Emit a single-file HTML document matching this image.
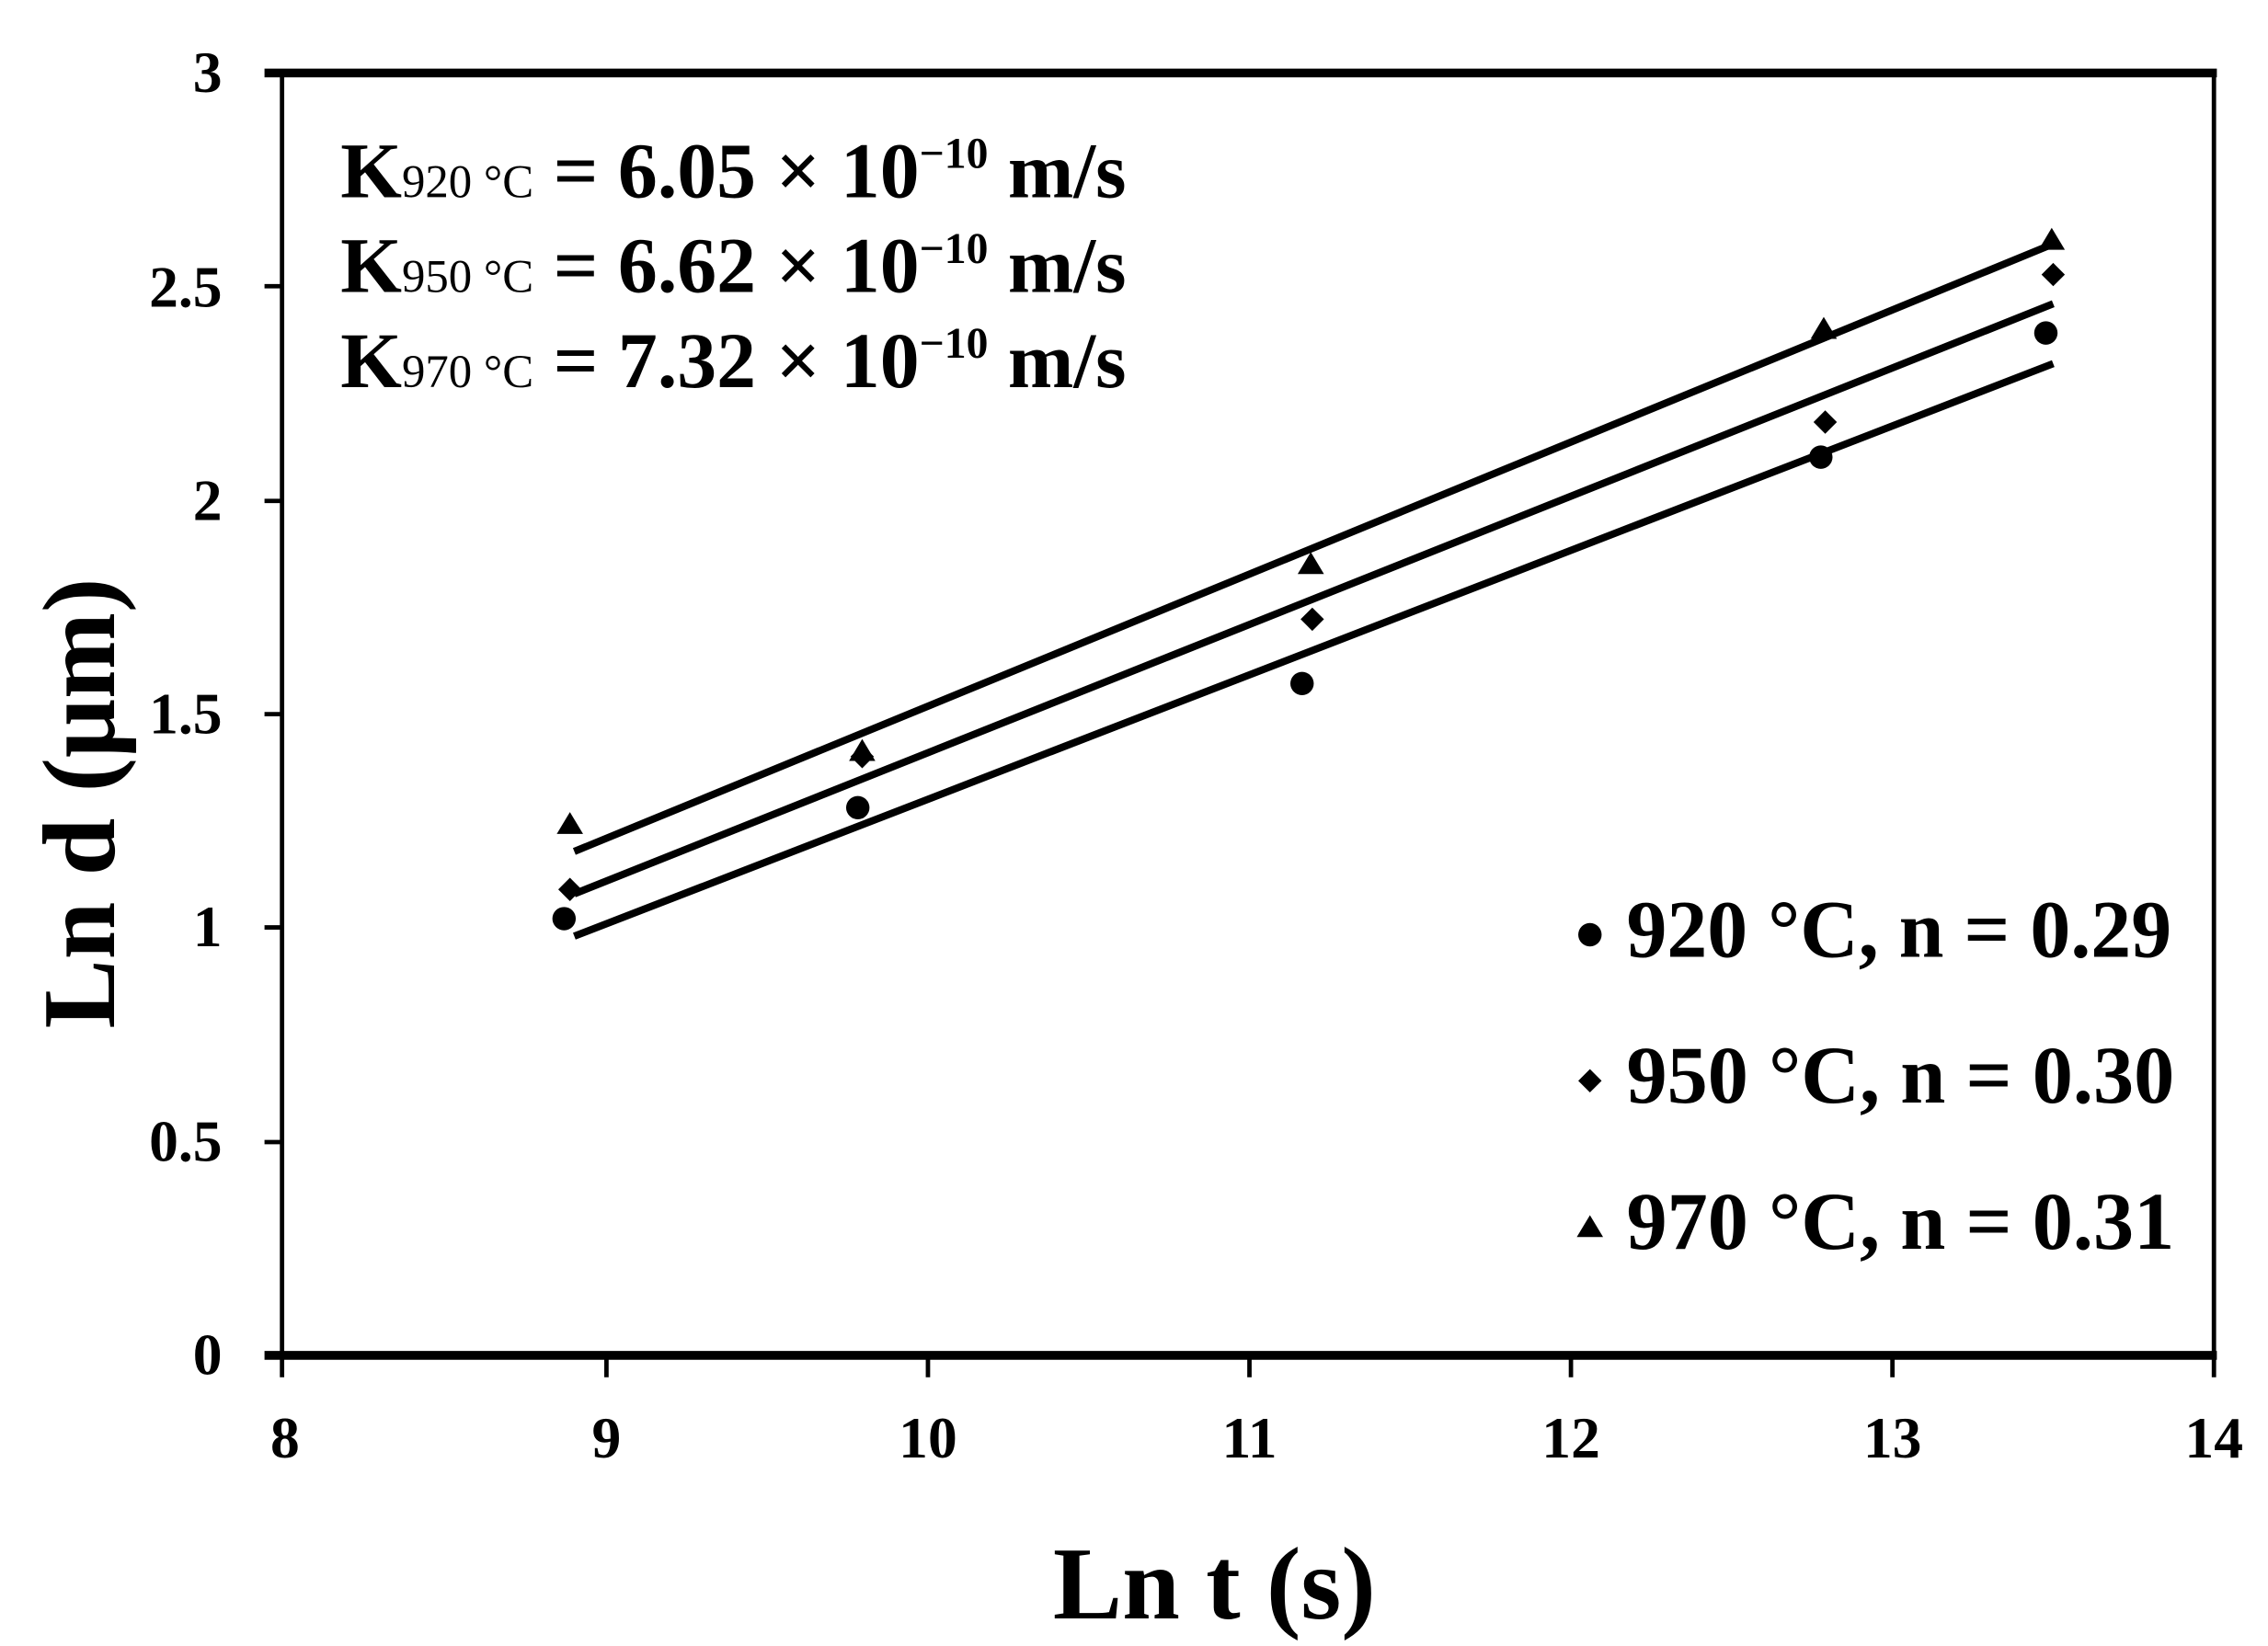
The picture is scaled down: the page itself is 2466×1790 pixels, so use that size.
<!DOCTYPE html>
<html><head><meta charset="utf-8"><style>html,body{margin:0;padding:0;background:#fff}svg{display:block}</style></head>
<body>
<svg width="2466" height="1790" viewBox="0 0 1552 1127" preserveAspectRatio="none" xmlns="http://www.w3.org/2000/svg" font-family="Liberation Serif, serif" font-weight="bold">
<rect width="1552" height="1127" fill="#fff"/>
<line x1="181" y1="50" x2="1517" y2="50" stroke="#000" stroke-width="6"/>
<line x1="181" y1="928" x2="1517" y2="928" stroke="#000" stroke-width="6"/>
<line x1="193" y1="48" x2="193" y2="943" stroke="#000" stroke-width="3"/>
<line x1="1515" y1="48" x2="1515" y2="943" stroke="#000" stroke-width="3"/>
<g stroke="#000" stroke-width="3">
<line x1="181" y1="196" x2="193" y2="196"/><line x1="181" y1="343" x2="193" y2="343"/><line x1="181" y1="489" x2="193" y2="489"/><line x1="181" y1="635" x2="193" y2="635"/><line x1="181" y1="782" x2="193" y2="782"/>
<line x1="415" y1="928" x2="415" y2="943"/><line x1="635" y1="928" x2="635" y2="943"/><line x1="855" y1="928" x2="855" y2="943"/><line x1="1075" y1="928" x2="1075" y2="943"/><line x1="1295" y1="928" x2="1295" y2="943"/>
</g>
<g font-size="40" text-anchor="end">
<text x="152" y="63">3</text><text x="152" y="210">2.5</text><text x="152" y="356">2</text><text x="152" y="502">1.5</text><text x="152" y="648">1</text><text x="152" y="795">0.5</text><text x="152" y="941">0</text>
</g>
<g font-size="40" text-anchor="middle">
<text x="195" y="998">8</text><text x="415" y="998">9</text><text x="635" y="998">10</text><text x="855" y="998">11</text><text x="1075" y="998">12</text><text x="1295" y="998">13</text><text x="1515" y="998">14</text>
</g>
<text x="831" y="1108" font-size="71" text-anchor="middle">Ln t (s)</text>
<text transform="translate(78,550) rotate(-90)" font-size="71" text-anchor="middle">Ln d (μm)</text>
<g font-size="54">
<text x="233" y="135">K<tspan font-size="32" font-weight="normal">920 °C</tspan> = 6.05 × 10<tspan font-size="30" dy="-20">−10</tspan><tspan dy="20"> m/s</tspan></text>
<text x="233" y="200">K<tspan font-size="32" font-weight="normal">950 °C</tspan> = 6.62 × 10<tspan font-size="30" dy="-20">−10</tspan><tspan dy="20"> m/s</tspan></text>
<text x="233" y="265">K<tspan font-size="32" font-weight="normal">970 °C</tspan> = 7.32 × 10<tspan font-size="30" dy="-20">−10</tspan><tspan dy="20"> m/s</tspan></text>
</g>
<g stroke="#000" stroke-width="5">
<line x1="393" y1="641" x2="1405" y2="249"/>
<line x1="393" y1="612" x2="1405" y2="208"/>
<line x1="393" y1="583" x2="1405" y2="167"/>
</g>
<g fill="#000">
<circle cx="386" cy="629" r="8"/><circle cx="587" cy="553" r="8"/><circle cx="891" cy="468" r="8"/><circle cx="1246" cy="313" r="8"/><circle cx="1400" cy="228" r="8"/>
</g>
<g fill="#000">
<path d="M390 601 l8 8 -8 8 -8 -8z"/><path d="M590 510 l8 8 -8 8 -8 -8z"/><path d="M898 416 l8 8 -8 8 -8 -8z"/><path d="M1249 281 l8 8 -8 8 -8 -8z"/><path d="M1405 180 l8 8 -8 8 -8 -8z"/>
</g>
<g fill="#000">
<path d="M390 556 l9 15 h-18z"/><path d="M590 506 l9 15 h-18z"/><path d="M897 378 l9 15 h-18z"/><path d="M1248 217 l9 15 h-18z"/><path d="M1404 156 l9 15 h-18z"/>
</g>
<circle cx="1088" cy="640" r="8" fill="#000"/>
<path d="M1088 732 l8 8 -8 8 -8 -8z" fill="#000"/>
<path d="M1088 832 l9 15 h-18z" fill="#000"/>
<g font-size="56" font-weight="bold">
<text x="1113" y="655" textLength="373" lengthAdjust="spacingAndGlyphs">920 °C, n = 0.29</text>
<text x="1113" y="755" textLength="375" lengthAdjust="spacingAndGlyphs">950 °C, n = 0.30</text>
<text x="1113" y="855" textLength="375" lengthAdjust="spacingAndGlyphs">970 °C, n = 0.31</text>
</g>
</svg>
</body></html>
